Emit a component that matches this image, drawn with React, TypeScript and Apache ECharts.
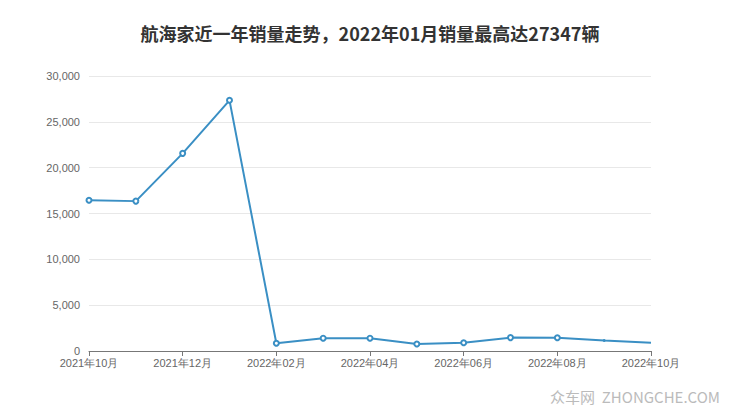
import React, { useEffect, useRef } from "react";
import * as echarts from "echarts";

const titleText = "航海家近一年销量走势，2022年01月销量最高达27347辆";
const months = [
  "2021年10月", "2021年11月", "2021年12月", "2022年01月", "2022年02月", "2022年03月",
  "2022年04月", "2022年05月", "2022年06月", "2022年07月", "2022年08月", "2022年09月", "2022年10月",
];
const sales = [16450, 16350, 21560, 27347, 850, 1400, 1400, 770, 900, 1460, 1450, 1140, 900];
const plainPoints = [11, 12];

export default function App() {
  const ref = useRef<HTMLDivElement>(null);
  useEffect(() => {
    if (!ref.current) return;
    const chart = echarts.init(ref.current, null, { renderer: "svg" });
    chart.setOption({
      animation: false,
      backgroundColor: "#fff",
      title: {
        text: titleText,
        left: "center",
        top: 19,
        textStyle: { fontSize: 18, fontWeight: "bold", color: "#333", fontFamily: "Noto Sans CJK SC" },
      },
      graphic: [
        {
          type: "text",
          right: 20,
          top: 389,
          style: { text: "众车网  ZHONGCHE.COM", fontSize: 15, fill: "#bbb", fontFamily: "Noto Sans CJK SC" },
        },
      ],
      grid: { left: 89, right: 89, top: 76, bottom: 66 },
      xAxis: {
        type: "category",
        boundaryGap: false,
        data: months,
        axisLine: { lineStyle: { color: "#777" } },
        axisTick: { interval: 1, lineStyle: { color: "#777" } },
        axisLabel: { interval: 1, color: "#666", fontSize: 11, fontFamily: "sans-serif", margin: 6 },
      },
      yAxis: {
        type: "value",
        min: 0,
        max: 30000,
        interval: 5000,
        axisLine: { show: false },
        axisTick: { show: false },
        splitLine: { lineStyle: { color: "#e8e8e8" } },
        axisLabel: {
          color: "#666",
          fontSize: 11,
          fontFamily: "sans-serif",
          margin: 9,
          formatter: (v: number) => v.toLocaleString("en-US"),
        },
      },
      series: [
        {
          type: "line",
          data: sales.map((v, i) =>
            plainPoints.includes(i)
              ? { value: v, symbol: i === 12 ? "none" : "circle", symbolSize: 3 }
              : v
          ),
          symbol: "emptyCircle",
          symbolSize: 5,
          lineStyle: { color: "#3a8fc4", width: 2 },
          itemStyle: { color: "#3a8fc4", borderWidth: 1.5 },
        },
      ],
    });
    return () => chart.dispose();
  }, []);
  return <div ref={ref} style={{ width: 740, height: 417, margin: -8 }} />;
}
